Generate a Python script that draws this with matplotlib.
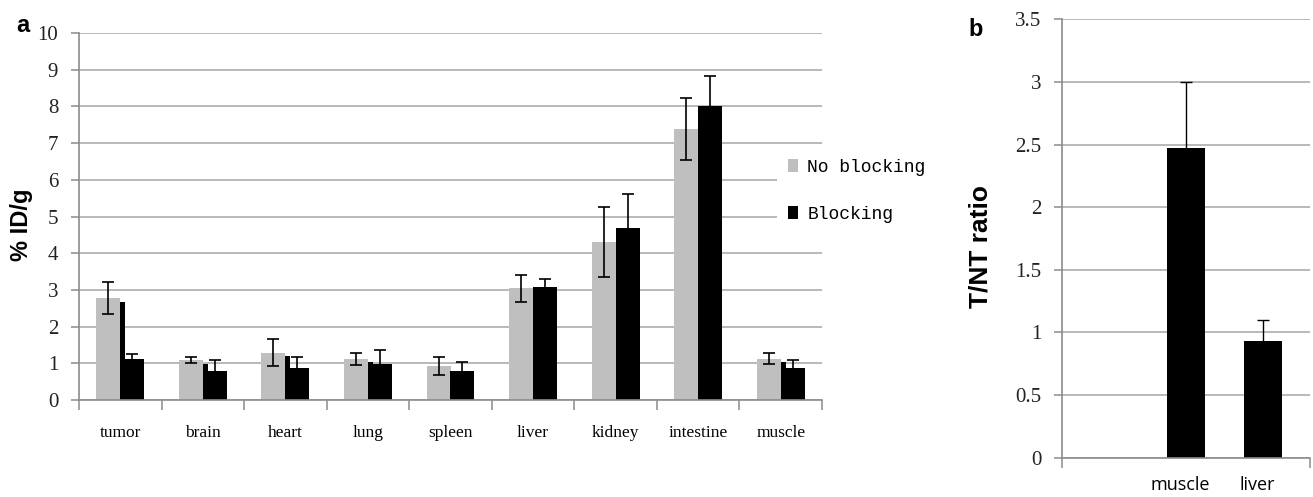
import numpy as np
import matplotlib
matplotlib.use("Agg")
import matplotlib.pyplot as plt

# panel a: biodistribution (%ID/g)
organs = ["tumor", "brain", "heart", "lung", "spleen", "liver", "kidney", "intestine", "muscle"]
no_blocking = [2.78, 1.10, 1.29, 1.12, 0.93, 3.04, 4.30, 7.39, 1.13]
no_blocking_err = [0.43, 0.08, 0.37, 0.17, 0.25, 0.36, 0.96, 0.84, 0.15]
blocking = [1.11, 0.79, 0.88, 0.98, 0.79, 3.09, 4.70, 8.02, 0.88]
blocking_err = [0.14, 0.30, 0.28, 0.37, 0.24, 0.22, 0.90, 0.82, 0.20]
# thin dark edge left of each blocking bar, as seen in the scan
blocking_edge = [2.66, 0.97, 1.20, 1.04, 0.80, 3.09, 4.70, 8.02, 1.03]
yticks_a = [0, 1, 2, 3, 4, 5, 6, 7, 8, 9, 10]

# panel b: tumor / non-tumor ratio
ratio_labels = ["", "muscle", "liver"]
ratio = [np.nan, 2.47, 0.93]
ratio_err = [np.nan, 0.53, 0.17]
yticks_b = [0, 0.5, 1, 1.5, 2, 2.5, 3, 3.5]
yticklabels_b = ["0", "0.5", "1", "1.5", "2", "2.5", "3", "3.5"]

GRAY = "#bfbfbf"
AXIS = "#8c8c8c"
GRID = "#a6a6a6"
SERIF = "Liberation Serif"
SANS_BOLD = dict(family="Liberation Sans", weight="bold")

fig = plt.figure(figsize=(13.13, 4.97), dpi=100)


def style_axes(ax):
    for side in ("top", "right"):
        ax.spines[side].set_visible(False)
    for side in ("left", "bottom"):
        ax.spines[side].set_color(AXIS)
        ax.spines[side].set_linewidth(1.2)
    ax.yaxis.grid(True, color=GRID, linewidth=1.1)
    ax.set_axisbelow(True)
    ax.tick_params(axis="y", which="major", length=6, width=1.1, color=AXIS, pad=9)
    ax.tick_params(axis="x", which="major", length=0)
    ax.tick_params(axis="x", which="minor", length=7, width=1.1, color=AXIS)


# ---- panel a
ax = fig.add_axes([79 / 1313, 97 / 497, 743 / 1313, 367 / 497])
x = np.arange(len(organs))
w = 0.29
bars_nb = ax.bar(x - w / 2, no_blocking, w, color=GRAY, label="No blocking", zorder=2)
bars_b = ax.bar(x + w / 2, blocking, w, color="black", label="Blocking", zorder=2)
ax.bar(x, blocking_edge, 0.06, align="edge", color="black", zorder=2)
ax.errorbar(x - w / 2, no_blocking, yerr=no_blocking_err, fmt="none", ecolor="black",
            elinewidth=1.2, capsize=4, capthick=1.2, zorder=4)
ax.errorbar(x + w / 2, blocking, yerr=blocking_err, fmt="none", ecolor="black",
            elinewidth=1.2, capsize=4, capthick=1.2, zorder=4)
ax.set_xlim(-0.5, len(organs) - 0.5)
ax.set_ylim(0, 10)
ax.set_yticks(yticks_a)
ax.set_yticklabels([str(t) for t in yticks_a], fontsize=15, family=SERIF, color="#222222")
ax.set_xticks(x)
ax.set_xticklabels(organs, fontsize=12.5, family=SERIF)
ax.set_xticks(np.arange(len(organs) + 1) - 0.5, minor=True)
style_axes(ax)
ax.tick_params(axis="x", which="major", pad=18)
ax.set_ylabel("% ID/g", fontsize=17, **SANS_BOLD)
ax.yaxis.set_label_coords((33 - 79) / 743, 0.477)

leg = ax.legend(handles=[bars_nb, bars_b], loc="upper left",
                bbox_to_anchor=(777 / 1313, 1 - 148 / 497), bbox_transform=fig.transFigure,
                borderaxespad=0, frameon=True, facecolor="white", edgecolor="none",
                framealpha=1, fancybox=False, borderpad=0.6,
                handlelength=0.58, handleheight=0.75, handletextpad=0.5, labelspacing=1.65,
                prop=dict(family="Liberation Mono", size=13))
leg.set_zorder(5)

fig.text(23 / 1313, 1 - 25 / 497, "a", fontsize=17, ha="center", va="center", **SANS_BOLD)

# ---- panel b
axb = fig.add_axes([1062 / 1313, (497 - 457.7) / 497, 248 / 1313, 438.4 / 497])
xb = np.arange(len(ratio_labels))
axb.bar(xb, ratio, 0.49, color="black", zorder=2)
axb.errorbar(xb, ratio, yerr=ratio_err, fmt="none", ecolor="black",
             elinewidth=1.0, capsize=4.5, capthick=1.0, zorder=4)
axb.set_xlim(-0.61, 2.61)
axb.set_ylim(0, 3.5)
axb.set_yticks(yticks_b)
axb.set_yticklabels(yticklabels_b, fontsize=15, family=SERIF, color="#222222")
axb.set_xticks(xb[1:] - 0.07)
axb.set_xticklabels(ratio_labels[1:], fontsize=13, family="Open Sans")
axb.set_xticks([-0.61, 2.61], minor=True)
style_axes(axb)
axb.tick_params(axis="x", which="major", pad=13)
axb.set_ylabel("T/NT ratio", fontsize=19, **SANS_BOLD)
axb.yaxis.set_label_coords((993 - 1062) / 248, 0.482)

fig.text(976 / 1313, 1 - 29 / 497, "b", fontsize=17, ha="center", va="center", **SANS_BOLD)

fig.savefig("out.png", dpi=100)
